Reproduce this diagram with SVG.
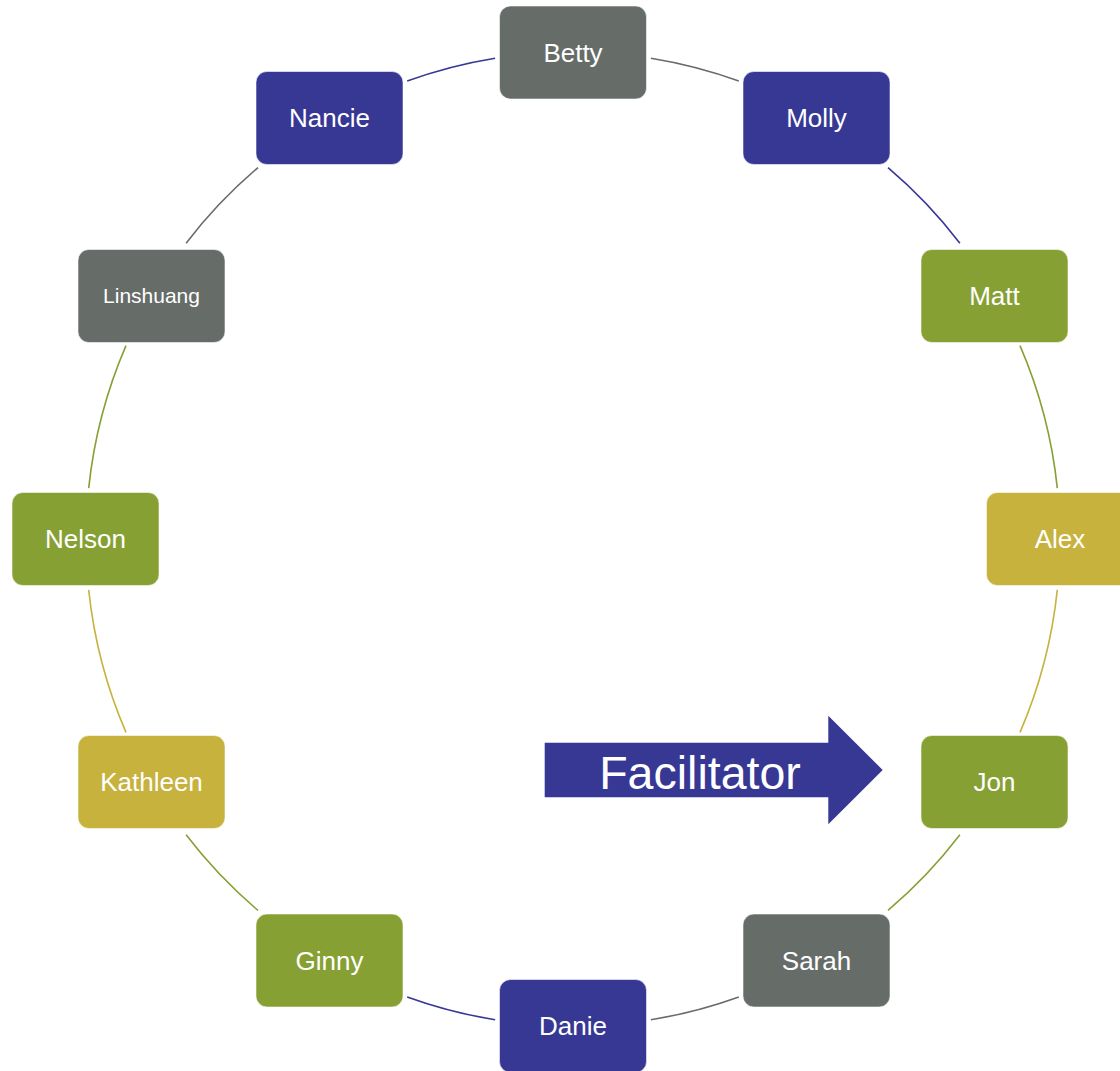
<svg xmlns="http://www.w3.org/2000/svg" width="1120" height="1071" viewBox="0 0 1120 1071">
<style>
.n rect{stroke:#ffffff;stroke-opacity:0.55;stroke-width:1}
.n text{fill:#ffffff;font-family:"Liberation Sans",Arial,sans-serif;font-size:26px;text-anchor:middle}
.gray rect{fill:#666D69}.blue rect{fill:#373894}.green rect{fill:#86A034}.yellow rect{fill:#C6B23D}
.c path{fill:none;stroke-width:1.6}
.cg{stroke:#666D69}.cb{stroke:#373894}.cgr{stroke:#86A034}.cy{stroke:#C6B23D}
</style>
<rect width="1120" height="1071" fill="#ffffff"/>
<g id="connectors" class="c">
<path class="cg" d="M650.9 58.3 A487 487 0 0 1 738.8 81.1"/>
<path class="cb" d="M888 167.6 A487 487 0 0 1 959.9 243.2"/>
<path class="cgr" d="M1020 345.6 A487 487 0 0 1 1057.3 488.1"/>
<path class="cy" d="M1057.3 589.9 A487 487 0 0 1 1020 732.4"/>
<path class="cgr" d="M959.9 834.8 A487 487 0 0 1 888 910.4"/>
<path class="cg" d="M738.8 996.9 A487 487 0 0 1 650.9 1019.7"/>
<path class="cb" d="M495.1 1019.7 A487 487 0 0 1 407.2 996.9"/>
<path class="cgr" d="M258 910.4 A487 487 0 0 1 186.1 834.8"/>
<path class="cy" d="M126 732.4 A487 487 0 0 1 88.7 589.9"/>
<path class="cgr" d="M88.7 488.1 A487 487 0 0 1 126 345.6"/>
<path class="cg" d="M186.1 243.2 A487 487 0 0 1 258 167.6"/>
<path class="cb" d="M407.2 81.1 A487 487 0 0 1 495.1 58.3"/>
</g>
<g id="betty" class="n gray"><rect x="499.5" y="6" width="147" height="93" rx="11"/><text x="573" y="61.5">Betty</text></g>
<g id="molly" class="n blue"><rect x="743" y="71.5" width="147" height="93" rx="11"/><text x="816.5" y="127">Molly</text></g>
<g id="matt" class="n green"><rect x="921" y="249.5" width="147" height="93" rx="11"/><text x="994.5" y="305">Matt</text></g>
<g id="alex" class="n yellow"><rect x="986.5" y="492.5" width="147" height="93" rx="11"/><text x="1060" y="548">Alex</text></g>
<g id="jon" class="n green"><rect x="921" y="735.5" width="147" height="93" rx="11"/><text x="994.5" y="791">Jon</text></g>
<g id="sarah" class="n gray"><rect x="743" y="914" width="147" height="93" rx="11"/><text x="816.5" y="969.5">Sarah</text></g>
<g id="danie" class="n blue"><rect x="499.5" y="979.5" width="147" height="93" rx="11"/><text x="573" y="1035">Danie</text></g>
<g id="ginny" class="n green"><rect x="256" y="914" width="147" height="93" rx="11"/><text x="329.5" y="969.5">Ginny</text></g>
<g id="kathleen" class="n yellow"><rect x="78" y="735.5" width="147" height="93" rx="11"/><text x="151.5" y="791">Kathleen</text></g>
<g id="nelson" class="n green"><rect x="12" y="492.5" width="147" height="93" rx="11"/><text x="85.5" y="548">Nelson</text></g>
<g id="linshuang" class="n gray"><rect x="78" y="249.5" width="147" height="93" rx="11"/><text x="151.5" y="303" style="font-size:21px">Linshuang</text></g>
<g id="nancie" class="n blue"><rect x="256" y="71.5" width="147" height="93" rx="11"/><text x="329.5" y="127">Nancie</text></g>
<g id="facilitator">
<polygon points="544.7,742.7 828.3,742.7 828.3,715.7 882.7,770 828.3,824.3 828.3,797.3 544.7,797.3" fill="#373894"/>
<text x="700" y="789" fill="#ffffff" font-family="Liberation Sans, Arial, sans-serif" font-size="46.5" text-anchor="middle">Facilitator</text>
</g>
</svg>
